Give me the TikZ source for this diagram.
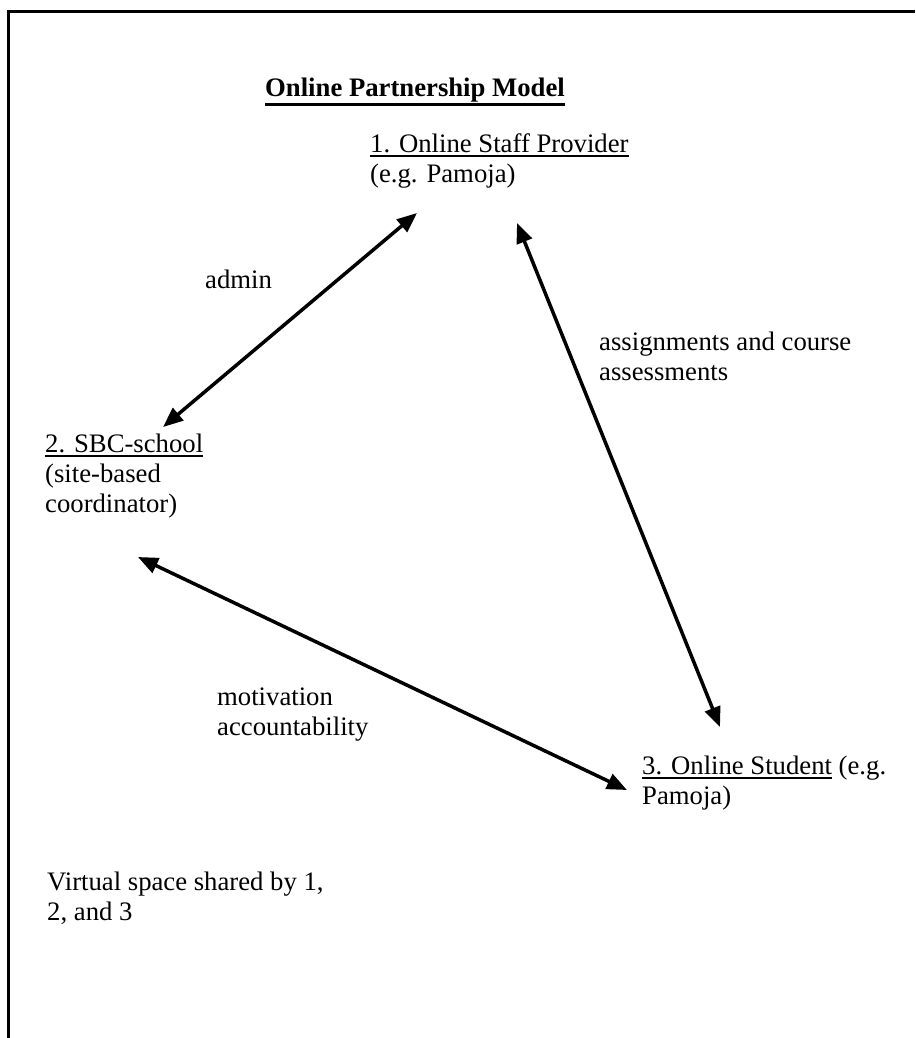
\documentclass[tikz,border=0pt]{standalone}
\usepackage{fontspec}
\setmainfont{Liberation Serif}
\usepackage{tikz}
\usetikzlibrary{arrows.meta}
\newcommand\undl[3][-5pt]{\leavevmode\setbox0\hbox{#3}%
  \rlap{\rule[#1]{\wd0}{#2}}\box0\relax}
\tikzset{
  txt/.style={anchor=base west, inner sep=0pt, align=left,
    font=\fontsize{26.7pt}{30pt}\selectfont},
  dbl/.style={line width=3.5pt,
    {Triangle[length=20pt,width=16pt]}-{Triangle[length=20pt,width=16pt]}}
}

\begin{document}
\begin{tikzpicture}[x=1pt,y=-1pt]
\useasboundingbox (0,0) rectangle (915,1038);
\draw[line width=3pt] (8,1038) -- (8,12) -- (915,12);

% base anchor sits on the last line
\node[txt] (ttl) at (265,97) {\bfseries\undl[-9pt]{2.6pt}{Online Partnership Model}};

\node[txt] (1) at (370,182) {\undl{2pt}{1. Online Staff Provider}\\(e.g. Pamoja)};
\node[txt] (2) at (45,512) {\undl{2pt}{2. SBC-school}\\(site-based\\coordinator)};
\node[txt] (3) at (642,804) {\undl{2pt}{3. Online Student} (e.g.\\Pamoja)};

\node[txt] (adm) at (205,288) {admin};
\node[txt] (asg) at (599,380) {assignments and course\\assessments};
\node[txt] (mot) at (217,735) {motivation\\accountability};
\node[txt] (vs) at (47,920) {Virtual space shared by 1,\\2, and 3};

\coordinate (1a) at (417,213);
\coordinate (1b) at (517,223);
\coordinate (2a) at (163,427);
\coordinate (2b) at (138,557);
\coordinate (3a) at (720,727);
\coordinate (3b) at (627,790);

\path[dbl] (1a) edge (2a)
           (1b) edge (3a)
           (2b) edge (3b);
\end{tikzpicture}
\end{document}
